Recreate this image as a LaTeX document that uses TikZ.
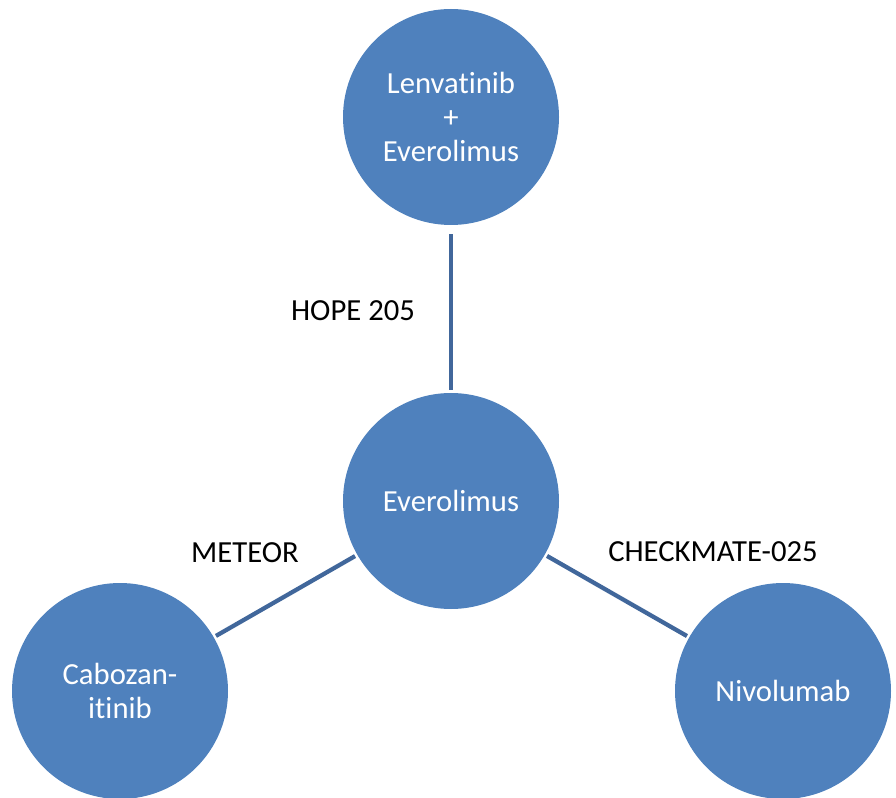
\documentclass[tikz,border=0pt]{standalone}
\usepackage{fontspec}
\setmainfont{Carlito}[Ligatures=NoCommon]
\usepackage{xcolor}
\usepackage{tikz}
\usetikzlibrary{positioning}
\definecolor{drugblue}{HTML}{4F81BD}
\definecolor{trialline}{HTML}{41679B}
\tikzset{drug/.style={circle, fill=drugblue, text=white, align=center, minimum size=162pt, inner sep=0pt, outer sep=2pt,
    font=\fontsize{23}{25.5}\selectfont},
  trial/.style={text=black, font=\fontsize{23}{25.5}\selectfont},
  trialedge/.style={trialline, line width=3.2pt}}

\begin{document}
\begin{tikzpicture}[x=0.75pt, y=-0.75pt]
        \useasboundingbox (0,0) rectangle (896,798);
        \node[drug] (lenva) at (451,117) {Lenvatinib\\+\\Everolimus};
        \node[drug] (evero) at (451,501) {Everolimus};
        \node[drug] (cabo) at (120,691) {Cabozan-\\itinib};
        \node[drug] (nivo) at (783,691) {Nivolumab};

        \draw[trialedge, shorten <=5pt] (lenva) -- (evero);
        \draw[trialedge] (evero) -- (cabo);
        \draw[trialedge] (evero) -- (nivo);

        \node[trial] (hope) at (353,311) {HOPE 205};
        \node[trial] (meteor) at (245,553) {METEOR};
        \node[trial] (checkmate) at (713,552) {CHECKMATE-025};
        \end{tikzpicture}
\end{document}
